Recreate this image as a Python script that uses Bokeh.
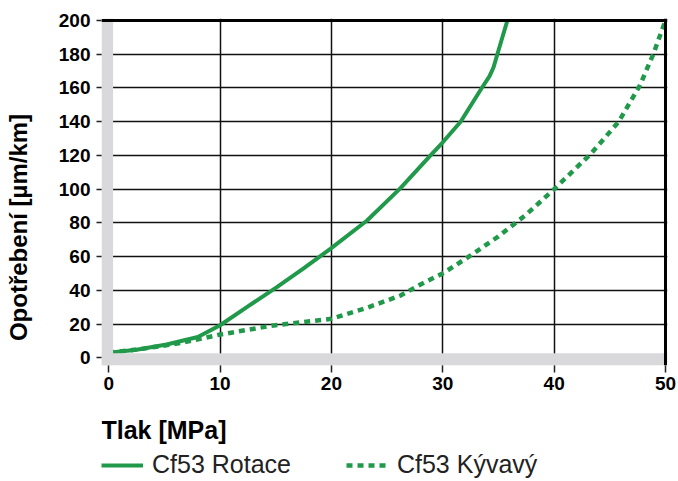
import math
from bokeh.plotting import figure
from bokeh.models import Range1d, FixedTicker, Legend, LegendItem, ColumnDataSource
from bokeh.layouts import row, column
from bokeh.core.properties import value
from bokeh.embed import file_html
from bokeh.resources import INLINE

# Data
rot_x = [0, 2.5, 5.2, 8, 10, 12.5, 15.1, 17.5, 19.9, 23.2, 26.2, 28.9, 30, 31.6, 33.5, 34.2, 34.56, 34.9, 35.8]
rot_y = [3, 4.8, 7.9, 12.3, 19.3, 30.5, 41.9, 53, 64.6, 81.4, 100.6, 120, 127.8, 140, 160, 167, 172.3, 180, 200]

kyv_x = [0, 3, 6.4, 10, 14.8, 20, 23.2, 26.2, 28, 30.1, 32.5, 35, 37.5, 40, 43.3, 45.8, 47.7, 48.9, 50]
kyv_y = [3, 5.3, 8.7, 13.8, 19.2, 23.1, 29.7, 36.9, 43.5, 50.4, 60.7, 72, 85, 100, 121, 140, 161.5, 180, 200]

x_ticks = [0, 10, 20, 30, 40, 50]
y_ticks = [0, 20, 40, 60, 80, 100, 120, 140, 160, 180, 200]
x_label = "Tlak [MPa]"
y_label = "Opotřebení [µm/km]"
series_names = ["Cf53 Rotace", "Cf53 Kývavý"]

GREEN = "#21994a"
GRAY = "#d9d9db"
FONT = "Liberation Sans"

# ---------------- main chart ----------------
p = figure(frame_width=566, frame_height=347, output_backend="svg", toolbar_location=None,
           x_range=Range1d(-0.65, 50.18), y_range=Range1d(-4.57, 201.2),
           min_border_left=61, min_border_top=18, min_border_right=11, min_border_bottom=35)
p.outline_line_color = None
p.background_fill_color = "white"

p.xgrid.ticker = FixedTicker(ticks=[10, 20, 30, 40])
p.ygrid.ticker = FixedTicker(ticks=[20, 40, 60, 80, 100, 120, 140, 160, 180])
for g in (p.xgrid, p.ygrid):
    g.grid_line_color = "#111111"
    g.grid_line_width = 1.5

for ax in (p.xaxis, p.yaxis):
    ax.axis_line_color = None
    ax.major_tick_in = 0
    ax.minor_tick_line_color = None
    ax.major_tick_line_color = "#222222"
    ax.major_tick_line_width = 1.5
    ax.major_label_text_font = FONT
    ax.major_label_text_font_style = "bold"
    ax.major_label_text_font_size = "19px"
    ax.major_label_text_color = "black"
p.xaxis.ticker = FixedTicker(ticks=x_ticks)
p.yaxis.ticker = FixedTicker(ticks=y_ticks)
p.xaxis.major_tick_out = 7
p.xaxis.major_label_standoff = 4
p.yaxis.major_tick_out = 5
p.yaxis.major_label_standoff = 6

src_r = ColumnDataSource(dict(x=rot_x, y=rot_y))
src_k = ColumnDataSource(dict(x=kyv_x, y=kyv_y))
r1 = p.line("x", "y", source=src_r, line_color=GREEN, line_width=4)
r2 = p.line("x", "y", source=src_k, line_color=GREEN, line_width=4.5, line_dash="6 5")

# gray bands at the axes
p.quad(left=[-0.65, -0.65], right=[0.39, 50.18], bottom=[-4.57, -4.57], top=[201.2, 2.73],
       fill_color=GRAY, line_color=None)

# top and right borders
p.segment(x0=[-0.65, 50], y0=[200, -4.57], x1=[50.18, 50], y1=[200, 201.2],
          line_color="black", line_width=3)

# ---------------- left strip: y axis title ----------------
pleft = figure(width=40, height=481, output_backend="svg", toolbar_location=None,
               x_range=Range1d(0, 40), y_range=Range1d(0, 481), min_border=0,
               x_axis_type=None, y_axis_type=None)
pleft.outline_line_color = None
pleft.text(x=[18], y=[254], text=[y_label], angle=math.pi / 2,
           text_align="center", text_baseline="middle", text_font=value(FONT),
           text_font_style="bold", text_font_size="24px", text_color="black")

# ---------------- bottom strip: x axis title + legend ----------------
# (its frame is aligned with the main chart's frame, canvas x 101..667)
p2 = figure(width=638, height=81, output_backend="svg", toolbar_location=None,
            x_range=Range1d(101, 667), y_range=Range1d(0, 81), min_border=0,
            x_axis_type=None, y_axis_type=None)
p2.outline_line_color = None
p2.text(x=[101], y=[52], text=[x_label], text_align="left", text_baseline="alphabetic",
        text_font=value(FONT), text_font_style="bold", text_font_size="25px", text_color="black")

# legend proxies (kept outside the visible range of this strip)
d1 = p2.line(x=[0, 1], y=[-10, -10], line_color=GREEN, line_width=4)
d2 = p2.line(x=[0, 1], y=[-10, -10], line_color=GREEN, line_width=4.5, line_dash="6 5")
legend = Legend(items=[LegendItem(label=series_names[0], renderers=[d1]),
                       LegendItem(label=series_names[1], renderers=[d2])],
                orientation="horizontal", location=(0, 2),
                label_text_font=FONT, label_text_font_size="25px", label_text_color="#222222",
                glyph_width=42, glyph_height=20, label_standoff=9, spacing=55,
                padding=0, margin=0, border_line_color=None, background_fill_alpha=0)
p2.add_layout(legend)

layout = row(pleft, column(p, p2, spacing=0), spacing=0)

open("out.html", "w").write(file_html(layout, INLINE))
